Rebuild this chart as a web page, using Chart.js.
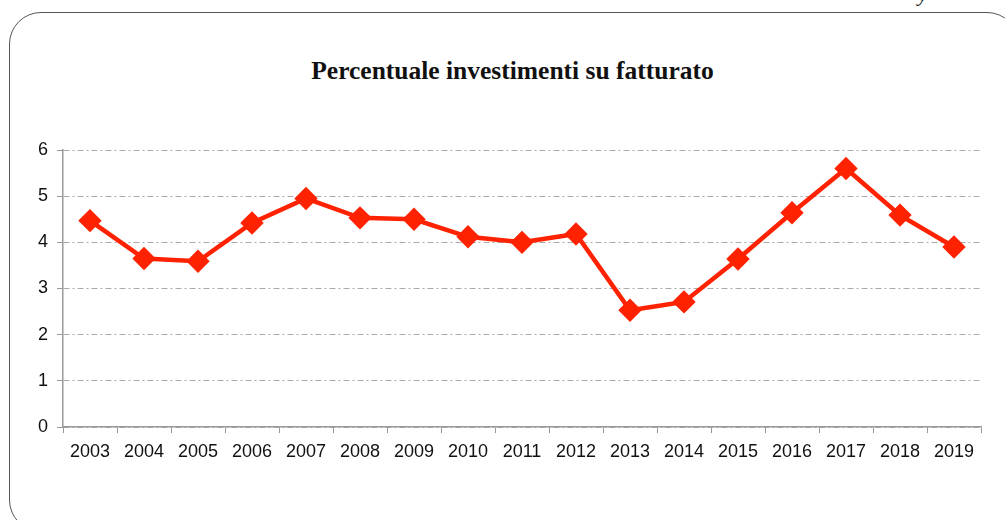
<!DOCTYPE html>
<html>
<head>
<meta charset="utf-8">
<script src="https://cdn.jsdelivr.net/npm/chart.js@4"></script>
<style>
  html, body { margin:0; padding:0; background:#fff; }
  #wrap { position:relative; width:1005px; height:520px; overflow:hidden; }
  #box { position:absolute; left:9px; top:12px; width:1010px; height:520px;
         border:1.5px solid #555; border-radius:32px; box-sizing:border-box; }
  #ylet { position:absolute; left:918px; top:-19px; font:italic 22px "Liberation Serif"; color:#222; }
  #title { position:absolute; left:0; width:1025px; top:56px; text-align:center;
           font:bold 25.5px "Liberation Serif"; color:#111; }
  #chart { position:absolute; left:0; top:0; }
</style>
</head>
<body>
<div id="wrap">
  <div id="ylet">y</div>
  <div id="box"></div>
  <div id="title">Percentuale investimenti su fatturato</div>
  <canvas id="chart" width="1005" height="520"></canvas>
</div>
<script>
var years = ['2003','2004','2005','2006','2007','2008','2009','2010','2011','2012','2013','2014','2015','2016','2017','2018','2019'];
var percentuale = [4.47, 3.65, 3.59, 4.42, 4.95, 4.53, 4.50, 4.12, 4.00, 4.18, 2.53, 2.71, 3.64, 4.64, 5.60, 4.59, 3.90];
var yTicks = [0, 1, 2, 3, 4, 5, 6];

Chart.defaults.font.family = '"Liberation Sans", Arial, sans-serif';
Chart.defaults.font.size = 18;
Chart.defaults.color = '#111';

var ctx = document.getElementById('chart').getContext('2d');
var myChart = new Chart(ctx, {
    type: 'line',
    data: {
        labels: years,
        datasets: [{
            data: percentuale,
            borderColor: '#ff2200',
            backgroundColor: '#ff2200',
            borderWidth: 4.5,
            pointStyle: 'rectRot',
            pointRadius: 8.5,
            pointHoverRadius: 8.5,
            tension: 0
        }]
    },
    options: {
        responsive: false,
        animation: false,
        layout: { padding: { top: 150, left: 0, right: 24, bottom: 0 } },
        plugins: { legend: { display: false }, tooltip: { enabled: false } },
        scales: {
            x: {
                offset: true,
                grid: { offset: true, drawOnChartArea: false, drawTicks: true, tickLength: 6, color: '#999' },
                border: { display: true, color: '#999', width: 1.5 },
                ticks: { padding: 8, maxRotation: 0, autoSkip: false },
                afterFit: function(scale){ scale.height = 93; }
            },
            y: {
                min: 0, max: 6,
                afterBuildTicks: function(scale){ scale.ticks = yTicks.map(function(v){ return {value:v}; }); },
                grid: { color: '#aaa', tickLength: 6, tickBorderDash: [], tickColor: '#999' },
                border: { display: true, color: '#999', width: 1.5, dash: [6,3,2,3] },
                ticks: { padding: 9 },
                afterFit: function(scale){ scale.width = 63; }
            }
        }
    }
});
</script>
</body>
</html>
